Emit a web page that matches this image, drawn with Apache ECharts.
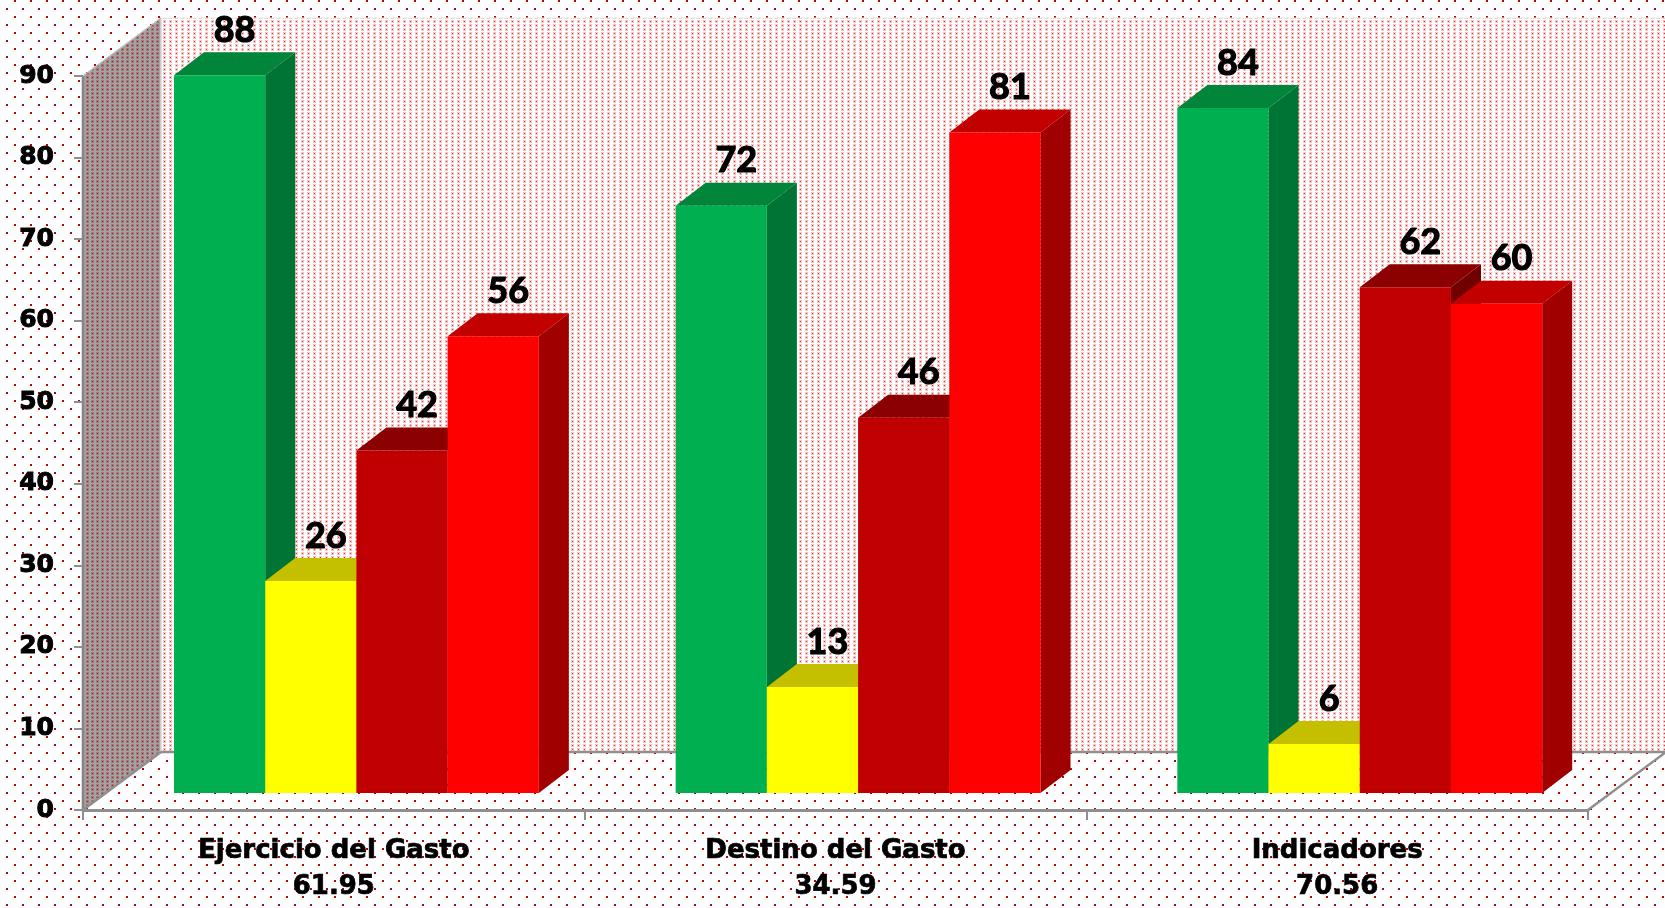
<!DOCTYPE html>
<html>
<head>
<meta charset="utf-8">
<script src="https://cdn.jsdelivr.net/npm/echarts@6/dist/echarts.min.js"></script>
<style>
  html, body { margin: 0; padding: 0; background: #fff; }
  #chart { width: 1665px; height: 908px; }
</style>
</head>
<body>
<div id="chart"></div>
<script>
// ---- data ----
const categories = ['Ejercicio del Gasto', 'Destino del Gasto', 'Indicadores'];
const categoryScores = ['61.95', '34.59', '70.56'];
const greenValues = [88, 72, 84];
const yellowValues = [26, 13, 6];
const darkRedValues = [42, 46, 62];
const redValues = [56, 81, 60];
const yMin = 0;
const yMax = 90;
const yStep = 10;

// ---- styling ----
const palettes = [
  { front: '#00b050', top: '#00853b', side: '#007434' },
  { front: '#ffff00', top: '#c4c000', side: '#a3a000' },
  { front: '#c00000', top: '#8b0000', side: '#700000' },
  { front: '#ff0000', top: '#c20000', side: '#a00000' }
];
const BARS_PER_GROUP = 4;
const GAP_RATIO = 1.5;          // gap between groups, in bar widths
const WALL_DX = 78, WALL_DY = -58;   // depth of the floor / side wall
const FRONT_DX = 22.6, FRONT_DY = -17; // where the bars' front faces sit
const BAR_DX = 30, BAR_DY = -23;       // depth of each box

function tile(w, h, bg, paint) {
  const c = document.createElement('canvas');
  c.width = w; c.height = h;
  const g = c.getContext('2d');
  if (bg) { g.fillStyle = bg; g.fillRect(0, 0, w, h); }
  paint(g);
  return { image: c, repeat: 'repeat' };
}
const outerPattern = tile(16, 16, '#ffffff', g => {
  g.fillStyle = '#c00000';
  g.fillRect(14, 0, 2, 2);
  g.fillRect(6, 8, 2, 2);
});
const backPattern = tile(6, 4, '#ffffff', g => {
  g.fillStyle = '#f6c6c6';
  g.fillRect(1, 0, 3, 3);
  g.fillStyle = '#dc3a3a';
  g.fillRect(2, 1, 1, 1);
});
const sidePattern = tile(5, 4, '#a3a3a3', g => {
  g.fillStyle = '#a47878';
  g.fillRect(1, 0, 3, 3);
  g.fillStyle = '#9c2424';
  g.fillRect(2, 1, 1, 1);
});
const edgeColor = '#8f8f8f';

function renderWalls(params, api) {
  const first = api.coord([0, yMin]);
  const band = api.size([1, 0])[0];
  const x0 = first[0] - band / 2;
  const x1 = api.coord([categories.length - 1, yMin])[0] + band / 2;
  const yB = first[1];
  const yT = api.coord([0, yMax])[1];
  const W = api.getWidth(), H = api.getHeight();
  const line = (a, b, w, c) => ({
    type: 'line',
    shape: { x1: a[0], y1: a[1], x2: b[0], y2: b[1] },
    style: { stroke: c || edgeColor, lineWidth: w || 2.5 }
  });
  return {
    type: 'group',
    children: [
      { type: 'rect', shape: { x: 0, y: 0, width: W, height: H }, style: { fill: outerPattern } },
      { type: 'polygon',
        shape: { points: [[x0 + WALL_DX, yT + WALL_DY], [x1 + WALL_DX, yT + WALL_DY],
                          [x1 + WALL_DX, yB + WALL_DY], [x0 + WALL_DX, yB + WALL_DY]] },
        style: { fill: backPattern } },
      { type: 'polygon',
        shape: { points: [[x0, yT], [x0 + WALL_DX, yT + WALL_DY], [x0 + WALL_DX, yB + WALL_DY], [x0, yB]] },
        style: { fill: sidePattern } },
      line([x0 + WALL_DX, yT + WALL_DY], [x1 + WALL_DX, yT + WALL_DY], 1, '#e4e4e4'),
      line([x0 + WALL_DX, yT + WALL_DY], [x0 + WALL_DX, yB + WALL_DY], 1.5, '#d8d8d8'),
      line([x0, yT], [x0, yB], 2.5, '#858585'),
      line([x0, yT], [x0 + WALL_DX, yT + WALL_DY], 1.5, '#bdbdbd'),
      line([x0 + WALL_DX, yB + WALL_DY], [x1 + WALL_DX, yB + WALL_DY]),
      line([x0, yB], [x0 + WALL_DX, yB + WALL_DY]),
      line([x1, yB], [x1 + WALL_DX, yB + WALL_DY])
    ]
  };
}

function makeBarRenderer(index) {
  const pal = palettes[index];
  return function (params, api) {
    const cat = api.value(0);
    const v = api.value(1);
    const base = api.coord([cat, yMin]);
    const top = api.coord([cat, v]);
    const band = api.size([1, 0])[0];
    const bw = band / (BARS_PER_GROUP + GAP_RATIO);
    const L = base[0] - bw * BARS_PER_GROUP / 2 + index * bw + FRONT_DX;
    const R = L + bw;
    const yb = base[1] + FRONT_DY;
    const yt = top[1] + FRONT_DY;
    return {
      type: 'group',
      children: [
        { type: 'polygon',
          shape: { points: [[R, yt], [R + BAR_DX, yt + BAR_DY], [R + BAR_DX, yb + BAR_DY], [R, yb]] },
          style: { fill: pal.side } },
        { type: 'polygon',
          shape: { points: [[L, yt], [L + BAR_DX, yt + BAR_DY], [R + BAR_DX, yt + BAR_DY], [R, yt]] },
          style: { fill: pal.top } },
        { type: 'rect',
          shape: { x: L, y: yt, width: bw, height: yb - yt },
          style: { fill: pal.front } },
        { type: 'text',
          style: {
            text: String(v),
            x: L + bw / 2 + BAR_DX / 2,
            y: yt - 27,
            textAlign: 'center',
            textVerticalAlign: 'bottom',
            fontFamily: 'Lato',
            fontWeight: 'bold',
            fontSize: 36,
            fill: '#000',
            stroke: '#000',
            lineWidth: 1.2
          } }
      ]
    };
  };
}

const valueSets = [greenValues, yellowValues, darkRedValues, redValues];
const barSeries = valueSets.map((vals, i) => ({
  type: 'custom',
  name: 'Serie ' + (i + 1),
  renderItem: makeBarRenderer(i),
  data: vals.map((v, c) => [c, v]),
  encode: { x: 0, y: 1 },
  z: 3 + i,
  silent: true
}));

const chart = echarts.init(document.getElementById('chart'), null, { renderer: 'canvas' });
chart.setOption({
  animation: false,
  grid: { left: 83, right: 77, top: 76, bottom: 98, containLabel: false },
  xAxis: {
    type: 'category',
    data: categories,
    z: 10,
    axisLine: { show: true, lineStyle: { color: edgeColor, width: 3 } },
    axisTick: { show: true, length: 10, lineStyle: { color: edgeColor, width: 2 } },
    axisLabel: {
      margin: 23,
      interval: 0,
      color: '#000',
      fontFamily: 'DejaVu Sans',
      fontWeight: 'bold',
      fontSize: 26,
      lineHeight: 36,
      textBorderColor: '#000',
      textBorderWidth: 0.7,
      formatter: (value, idx) => value + '\n' + categoryScores[idx]
    },
    splitLine: { show: false }
  },
  yAxis: {
    type: 'value',
    min: yMin,
    max: yMax,
    interval: yStep,
    z: 10,
    axisLine: { show: false },
    axisTick: { show: true, length: 9, lineStyle: { color: edgeColor, width: 2 } },
    axisLabel: {
      margin: 29,
      color: '#000',
      fontFamily: 'DejaVu Sans',
      fontWeight: 'bold',
      fontSize: 25,
      textBorderColor: '#000',
      textBorderWidth: 1
    },
    splitLine: { show: false }
  },
  series: [
    {
      type: 'custom',
      name: 'walls',
      renderItem: renderWalls,
      data: [[0, 0]],
      encode: { x: 0, y: 1 },
      z: 1,
      silent: true
    }
  ].concat(barSeries)
});
</script>
</body>
</html>
